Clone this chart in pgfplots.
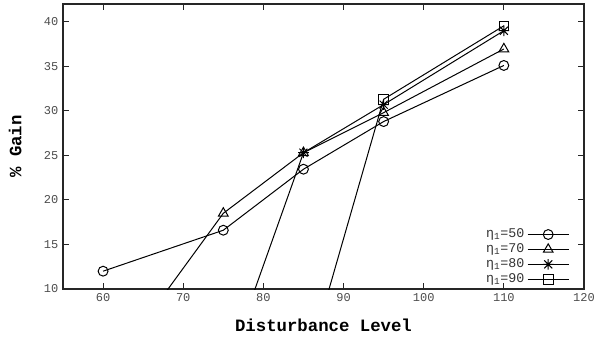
\documentclass[border=0pt]{standalone}
\usepackage{fontspec}
\setmainfont{Liberation Mono}
\usepackage{pgfplots}
\pgfplotsset{compat=1.18}
\pgfdeclareplotmark{plusx}{%
  \pgfpathmoveto{\pgfqpoint{0pt}{\pgfplotmarksize}}\pgfpathlineto{\pgfqpoint{0pt}{-\pgfplotmarksize}}%
  \pgfpathmoveto{\pgfqpoint{\pgfplotmarksize}{0pt}}\pgfpathlineto{\pgfqpoint{-\pgfplotmarksize}{0pt}}%
  \pgfpathmoveto{\pgfqpoint{0.75\pgfplotmarksize}{0.75\pgfplotmarksize}}\pgfpathlineto{\pgfqpoint{-0.75\pgfplotmarksize}{-0.75\pgfplotmarksize}}%
  \pgfpathmoveto{\pgfqpoint{0.75\pgfplotmarksize}{-0.75\pgfplotmarksize}}\pgfpathlineto{\pgfqpoint{-0.75\pgfplotmarksize}{0.75\pgfplotmarksize}}%
  \pgfusepathqstroke}
\begin{document}
\begin{tikzpicture}
\begin{axis}[
  name=ax,
  scale only axis,
  width=390.75pt, height=213.75pt,
  xmin=55, xmax=120, ymin=10, ymax=42,
  xtick={60,70,...,120}, ytick={10,15,...,40},
  tick align=inside,
  major tick length=4.5pt,
  tick style={black!85, line width=0.8pt},
  axis line style={line width=1pt, black!85},
  /pgf/number format/assume math mode=true,
  tick label style={font=\fontsize{9}{10}\selectfont, text=black!70},
  xlabel={\textbf{Disturbance Level}},
  ylabel={\textbf{\% Gain}},
  label style={font=\fontsize{13}{15}\selectfont},
  x label style={at={(axis description cs:0.5,-0.126)}, anchor=center},
  y label style={at={(axis description cs:-0.092,0.5)}, anchor=center, rotate=0},
  clip marker paths=true,
  legend cell align=right,
  legend style={draw=none, fill=none, legend plot pos=right,
    font=\fontsize{10}{10}\selectfont, row sep=-1pt, text=black!80,
    inner xsep=1pt, inner ysep=1pt,
    at={(axis description cs:0.975,0.0)}, anchor=south east},
  legend image code/.code={\draw[mark repeat=2,mark phase=2,#1] plot coordinates {(-3pt,0pt) (12.5pt,0pt) (28pt,0pt)};},
]
\addplot[black, line width=0.75pt, mark=o, mark size=3.7pt, mark options={solid}] coordinates {(60,12.0) (75,16.6) (85,23.45) (95,28.8) (110,35.1)};
\addlegendentry{η\textsubscript{1}=50}
\addplot[black, line width=0.75pt, mark=triangle, mark size=4.2pt, mark options={solid}] coordinates {(60,0) (75,18.5) (85,25.3) (95,29.8) (110,36.95)};
\addlegendentry{η\textsubscript{1}=70}
\addplot[black, line width=0.75pt, mark=plusx, mark size=4pt, mark options={solid}] coordinates {(75,0) (85,25.3) (95,30.7) (110,39.0)};
\addlegendentry{η\textsubscript{1}=80}
\addplot[black, line width=0.75pt, mark=square, mark size=3.6pt, mark options={solid}] coordinates {(85,0) (95,31.3) (110,39.55)};
\addlegendentry{η\textsubscript{1}=90}
\end{axis}
\pgfresetboundingbox
\path[use as bounding box] ([xshift=-47.25pt,yshift=-37.5pt]ax.south west) rectangle ([xshift=401.25pt,yshift=216.75pt]ax.south west);
\end{tikzpicture}
\end{document}
